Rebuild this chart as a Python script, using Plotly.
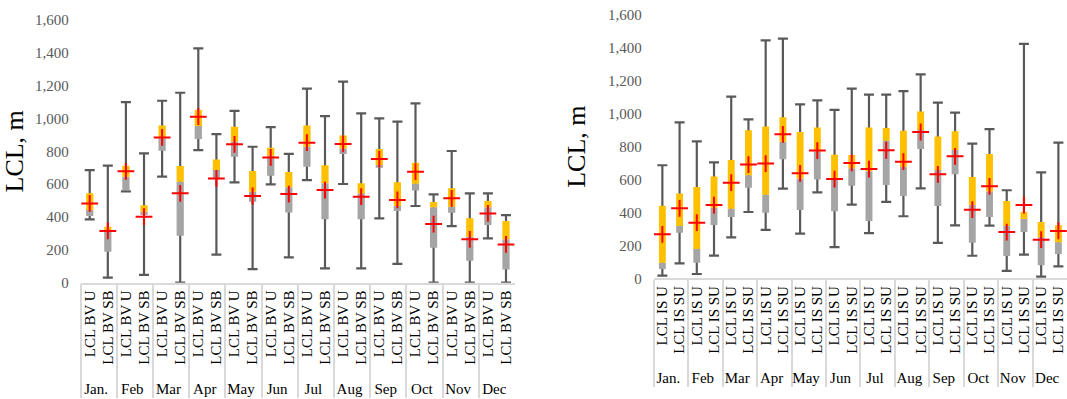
import plotly.graph_objects as go

months = ["Jan.", "Feb", "Mar", "Apr", "May", "Jun", "Jul", "Aug", "Sep", "Oct", "Nov", "Dec"]

# Left panel series: LCL BV U / LCL BV SB (m)
bv_labels = ["LCL BV U", "LCL BV SB"]
bv_max = [686, 713, 1100, 788, 1108, 1157, 1427, 905, 1046, 828, 948, 784,
          1182, 1015, 1224, 1031, 1001, 981, 1092, 538, 802, 544, 544, 412]
bv_q3 = [544, 341, 713, 471, 958, 711, 1052, 751, 950, 680, 822, 674,
         958, 715, 897, 605, 814, 611, 731, 491, 575, 392, 497, 376]
bv_median = [443, 311, 646, 432, 879, 615, 954, 686, 860, 554, 773, 581,
             828, 605, 818, 544, 717, 467, 603, 459, 463, 280, 459, 264]
bv_q1 = [406, 189, 562, 412, 804, 286, 875, 630, 767, 493, 652, 428,
         706, 386, 784, 386, 700, 437, 562, 213, 426, 134, 351, 81]
bv_min = [386, 31, 556, 47, 646, 0, 808, 171, 611, 83, 599, 154,
          625, 87, 601, 87, 392, 114, 467, 0, 345, 0, 270, 0]
bv_mean = [483, 315, 678, 402, 885, 544, 1011, 635, 843, 528, 763, 540,
           853, 564, 845, 524, 753, 504, 676, 357, 514, 264, 422, 233]

# Right panel series: LCL IS U / LCL IS SU (m)
is_labels = ["LCL IS U", "LCL IS SU"]
is_max = [687, 948, 832, 705, 1104, 966, 1446, 1456, 1057, 1081, 1023, 1152,
          1116, 1116, 1138, 1239, 1067, 1007, 818, 907, 535, 1424, 644, 824]
is_q3 = [441, 516, 555, 619, 719, 899, 922, 978, 889, 917, 751, 749,
         917, 913, 897, 1013, 861, 893, 615, 755, 470, 403, 342, 322]
is_median = [95, 318, 178, 429, 423, 626, 508, 830, 607, 770, 597, 668,
             650, 836, 678, 901, 658, 780, 445, 527, 318, 360, 250, 219]
is_q1 = [57, 277, 95, 324, 373, 551, 399, 723, 415, 601, 407, 563,
         348, 567, 500, 786, 439, 632, 216, 372, 135, 281, 79, 148]
is_min = [16, 91, 26, 138, 249, 403, 294, 545, 271, 522, 190, 448,
          275, 464, 377, 547, 215, 322, 137, 320, 45, 144, 10, 73]
is_mean = [267, 425, 338, 445, 581, 691, 697, 875, 638, 776, 603, 701,
           664, 778, 709, 889, 632, 741, 417, 559, 281, 445, 235, 288]

SERIF = "Liberation Serif"
ORANGE = "#FFC000"
GRAY = "#A5A5A5"
WHISKER = "#595959"
FRAME = "#D9D9D9"


def add_panel(fig, labels, vmax, q3, med, q1, vmin, mean, xa, ya):
    x = [[m for m in months for _ in labels], labels * len(months)]
    span = [hi - lo for hi, lo in zip(vmax, vmin)]
    # whiskers: invisible bar from min to max carrying the error-bar caps
    fig.add_trace(go.Bar(
        x=x, y=span, base=vmin, width=0.4,
        marker=dict(color="rgba(0,0,0,0)", line=dict(width=0)),
        error_y=dict(type="data", symmetric=False, array=[0] * len(span),
                     arrayminus=span, color=WHISKER, thickness=2.2, width=5),
        xaxis=xa, yaxis=ya, hoverinfo="skip"))
    # lower box: q1 -> median
    fig.add_trace(go.Bar(
        x=x, y=[m - q for m, q in zip(med, q1)], base=q1, width=0.4,
        marker=dict(color=GRAY, line=dict(width=0)), xaxis=xa, yaxis=ya))
    # upper box: median -> q3
    fig.add_trace(go.Bar(
        x=x, y=[q - m for q, m in zip(q3, med)], base=med, width=0.4,
        marker=dict(color=ORANGE, line=dict(width=0)), xaxis=xa, yaxis=ya))
    # mean markers
    fig.add_trace(go.Scatter(
        x=x, y=mean, mode="markers",
        marker=dict(symbol="cross-thin", size=12, color="#FF0000",
                    line=dict(color="#FF0000", width=2)),
        xaxis=xa, yaxis=ya))


fig = go.Figure()
add_panel(fig, bv_labels, bv_max, bv_q3, bv_median, bv_q1, bv_min, bv_mean, "x", "y")
add_panel(fig, is_labels, is_max, is_q3, is_median, is_q1, is_min, is_mean, "x2", "y2")

xcommon = dict(
    type="multicategory", range=[-0.5, 23.5], showline=True, linecolor=FRAME,
    linewidth=1.5, showgrid=False, zeroline=False, tickangle=-90, ticks="",
    nticks=60, tickfont=dict(family=SERIF, size=15, color="#000000"),
    dividercolor=FRAME, dividerwidth=1.5, automargin=False)
ycommon = dict(
    range=[0, 1600], dtick=200, tickformat=",", showgrid=False, zeroline=False,
    showline=False, ticks="", ticklabelstandoff=11,
    tickfont=dict(family=SERIF, size=15, color="#595959"), automargin=False)

fig.update_layout(
    width=1067, height=399,
    margin=dict(l=0, r=0, t=0, b=0),
    barmode="overlay", showlegend=False,
    plot_bgcolor="white", paper_bgcolor="white",
    font=dict(family=SERIF),
    xaxis=dict(domain=[0.0756, 0.4827], anchor="y", **xcommon),
    yaxis=dict(domain=[0.2915, 0.9499], anchor="x",
               title=dict(text="LCL, m", standoff=6,
                          font=dict(family=SERIF, size=26, color="#000000")),
               **ycommon),
    xaxis2=dict(domain=[0.6127, 1.0], anchor="y2", **xcommon),
    yaxis2=dict(domain=[0.3025, 0.9624], anchor="x2",
                title=dict(text="LCL, m", standoff=14,
                           font=dict(family=SERIF, size=26, color="#000000")),
                **ycommon),
)

fig.write_html("out.html")
